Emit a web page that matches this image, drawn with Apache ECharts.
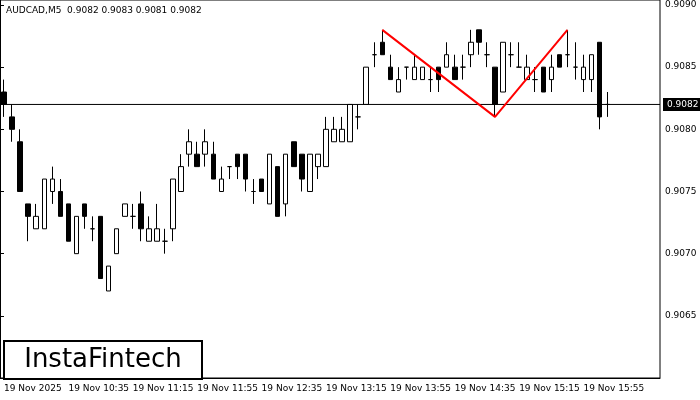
<!DOCTYPE html>
<html lang="en">
<head>
<meta charset="UTF-8">
<title>AUDCAD M5</title>
<style>
  html, body { margin: 0; padding: 0; background: #fff; }
  #chart { width: 700px; height: 400px; }
</style>
</head>
<body>
<div id="chart"></div>
<script src="https://cdn.jsdelivr.net/npm/echarts@6/dist/echarts.min.js"></script>
<script>
var open  = [.9083,.9081,.9079,.9074,.9072,.9072,.9075,.9075,.9074,.9070,.9074,.9072,.9073,.9067,.9070,.9073,.9073,.9074,.9071,.9071,
             .9071,.9072,.9075,.9078,.9078,.9078,.9078,.9075,.9077,.9078,.9078,.9075,.9076,.9074,.9077,.9074,.9079,.9078,.9075,.9077,
             .9077,.9079,.9079,.9079,.9081,.9082,.9086,.9087,.9085,.9083,.9085,.9084,.9084,.9084,.9085,.9085,.9085,.9085,.9086,.9088,
             .9086,.9085,.9083,.9086,.9085,.9084,.9084,.9085,.9084,.9086,.9086,.9085,.9084,.9084,.9087,.9082];
var close = [.9082,.9080,.9075,.9073,.9073,.9076,.9076,.9073,.9071,.9073,.9073,.9072,.9068,.9069,.9072,.9074,.9073,.9072,.9072,.9072,
             .9071,.9076,.9077,.9079,.9077,.9079,.9076,.9076,.9077,.9077,.9076,.9075,.9075,.9078,.9073,.9078,.9077,.9076,.9078,.9078,
             .9080,.9080,.9080,.9082,.9081,.9085,.9086,.9086,.9084,.9084,.9085,.9085,.9085,.9084,.9084,.9086,.9084,.9085,.9087,.9087,
             .9086,.9082,.9087,.9086,.9085,.9085,.9084,.9083,.9085,.9085,.9086,.9085,.9085,.9086,.9081,.9082];
var low   = [.9081,.9079,.9075,.9071,.9072,.9072,.9074,.9073,.9071,.9070,.9072,.9071,.9068,.9067,.9070,.9073,.9072,.9071,.9071,.9071,
             .9070,.9071,.9075,.9077,.9077,.9077,.9076,.9075,.9076,.9076,.9075,.9074,.9075,.9074,.9073,.9073,.9077,.9075,.9075,.9076,
             .9077,.9079,.9079,.9079,.9080,.9082,.9085,.9086,.9084,.9083,.9084,.9084,.9084,.9083,.9083,.9085,.9084,.9084,.9085,.9086,
             .9085,.9081,.9083,.9085,.9085,.9084,.9083,.9083,.9083,.9085,.9085,.9084,.9083,.9083,.9080,.9081];
var high  = [.9084,.9082,.9080,.9074,.9074,.9076,.9077,.9076,.9074,.9073,.9074,.9073,.9073,.9069,.9072,.9074,.9074,.9075,.9073,.9074,
             .9072,.9076,.9078,.9080,.9079,.9080,.9079,.9077,.9077,.9078,.9078,.9076,.9076,.9078,.9077,.9078,.9079,.9078,.9078,.9078,
             .9081,.9081,.9081,.9082,.9082,.9085,.9087,.9088,.9086,.9085,.9085,.9086,.9085,.9085,.9085,.9087,.9086,.9086,.9088,.9088,
             .9087,.9085,.9087,.9087,.9087,.9086,.9085,.9085,.9086,.9086,.9088,.9087,.9086,.9086,.9087,.9083];
var timeLabels = ['19 Nov 2025','19 Nov 10:35','19 Nov 11:15','19 Nov 11:55','19 Nov 12:35','19 Nov 13:15',
                  '19 Nov 13:55','19 Nov 14:35','19 Nov 15:15','19 Nov 15:55'];
var patternIdx = [47, 61, 70];
var patternVal = [.9088, .9081, .9088];
var lastPrice = 0.9082;
var slotCount = 82;

var cats = [];
for (var i = 0; i < slotCount; i++) {
    cats.push(i % 8 === 0 ? (timeLabels[i / 8] || '') : '');
}
var candles = open.map(function (o, i) { return [o, close[i], low[i], high[i]]; });
var pattern = patternIdx.map(function (x, i) { return [x, patternVal[i]]; });
var every8 = function (i) { return i % 8 === 0; };

var chart = echarts.init(document.getElementById('chart'));
chart.setOption({
    animation: false,
    grid: { left: 0, right: 40, top: 0, bottom: 22, show: true, borderColor: '#000', borderWidth: 1 },
    xAxis: [{
        type: 'category',
        data: cats,
        boundaryGap: true,
        axisLine: { lineStyle: { color: '#000' } },
        axisTick: { alignWithLabel: true, interval: every8, length: 4, lineStyle: { color: '#000' } },
        axisLabel: {
            interval: every8,
            align: 'left', color: '#000', fontSize: 9, fontFamily: 'DejaVu Sans', margin: 6
        },
        splitLine: { show: false }
    }, {
        type: 'value', min: 0, max: 1, show: false
    }],
    yAxis: {
        type: 'value',
        position: 'right',
        min: 0.9060, max: 0.90904, interval: 0.0005,
        axisLine: { show: true, lineStyle: { color: '#000' } },
        axisTick: { show: true, length: 4, lineStyle: { color: '#000' } },
        axisLabel: {
            showMaxLabel: false, showMinLabel: false,
            color: '#000', fontSize: 9, fontFamily: 'DejaVu Sans', margin: 5,
            formatter: function (v) { return v.toFixed(4); }
        },
        splitLine: { show: false }
    },
    series: [{
        type: 'candlestick',
        data: candles,
        barWidth: 5,
        itemStyle: { color: '#fff', color0: '#000', borderColor: '#000', borderColor0: '#000', borderWidth: 1 }
    }, {
        type: 'line',
        data: pattern,
        symbol: 'none',
        lineStyle: { color: '#ff0000', width: 2 },
        z: 5
    }, {
        type: 'line',
        xAxisIndex: 1,
        data: [[0, lastPrice], [1, lastPrice]],
        symbol: 'none',
        lineStyle: { color: '#000', width: 1 },
        z: 3,
        endLabel: {
            show: true, formatter: lastPrice.toFixed(4), color: '#fff',
            backgroundColor: '#000', padding: [2, 4], fontSize: 9, fontFamily: 'DejaVu Sans', distance: 3
        }
    }],
    graphic: [{
        type: 'group', left: 3, top: 340,
        children: [{
            type: 'rect', shape: { x: 0, y: 0, width: 198, height: 38 },
            style: { fill: '#fff', stroke: '#000', lineWidth: 2 }
        }, {
            type: 'text', x: 99, y: 19,
            style: { text: 'InstaFintech', fill: '#000', font: '26px "DejaVu Sans"', textAlign: 'center', textVerticalAlign: 'middle' }
        }]
    }, {
        type: 'text', left: 6, top: 6,
        style: { text: 'AUDCAD,M5  0.9082 0.9083 0.9081 0.9082', fill: '#000', font: '9px "DejaVu Sans"' }
    }]
});
</script>
</body>
</html>
